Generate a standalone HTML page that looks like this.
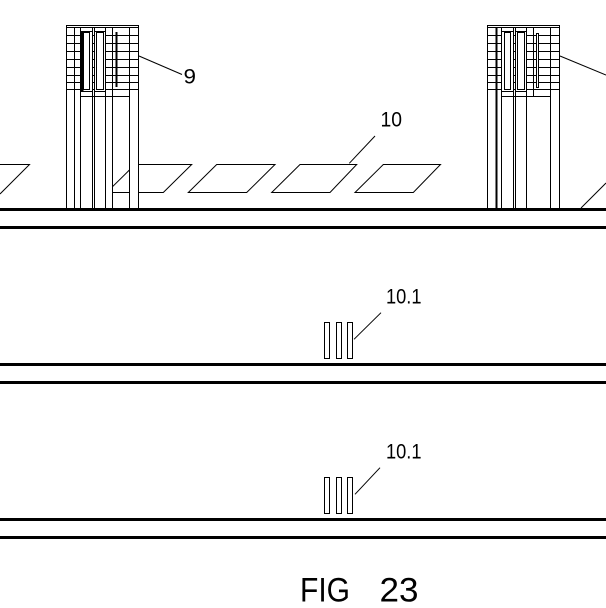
<!DOCTYPE html>
<html>
<head>
<meta charset="utf-8">
<style>
  html,body{margin:0;padding:0;background:#fff;}
  svg{display:block;}
  text{font-family:"Liberation Sans","DejaVu Sans",sans-serif;fill:#000;}
</style>
</head>
<body>
<svg width="606" height="608" viewBox="0 0 606 608" xmlns="http://www.w3.org/2000/svg">
  <defs>
    <clipPath id="p2clip">
      <rect x="113" y="100" width="16" height="108"/>
      <rect x="139" y="100" width="80" height="108"/>
    </clipPath>
  </defs>
  <rect x="0" y="0" width="606" height="608" fill="#fff"/>

  <!-- ground lines -->
  <rect x="0" y="208" width="606" height="3" fill="#000"/>
  <rect x="0" y="226" width="606" height="3" fill="#000"/>
  <rect x="0" y="363" width="606" height="3" fill="#000"/>
  <rect x="0" y="381" width="606" height="3" fill="#000"/>
  <rect x="0" y="518" width="606" height="3" fill="#000"/>
  <rect x="0" y="536" width="606" height="3" fill="#000"/>

  <g fill="none" stroke="#000" stroke-width="1">
    <polyline points="0,164.5 29.5,164.5 0,194"/>
    <polygon points="135,164.5 191.7,164.5 163.3,192.5 106.6,192.5" clip-path="url(#p2clip)"/>
    <polygon points="216.7,164.5 275,164.5 246.7,192.5 188.3,192.5"/>
    <polygon points="300,164.5 356.7,164.5 330,192.5 271.7,192.5"/>
    <polygon points="383.3,164.5 440.5,164.5 413.3,192.5 355,192.5"/>
    <line x1="606" y1="183" x2="581" y2="208"/>
    <line x1="375" y1="136" x2="349.3" y2="163.3"/>
  </g>

  <!-- LEFT TOWER -->
  <g fill="none" stroke="#000" stroke-width="1" shape-rendering="crispEdges">
    <line x1="66.5" y1="25" x2="66.5" y2="208"/>
    <line x1="138.5" y1="25" x2="138.5" y2="208"/>
    <line x1="66" y1="25.5" x2="139" y2="25.5"/>
    <line x1="66" y1="27.5" x2="139" y2="27.5"/>
    <line x1="74.5" y1="27" x2="74.5" y2="208"/>
    <line x1="80.5" y1="27" x2="80.5" y2="208"/>
    <line x1="92.5" y1="27" x2="92.5" y2="208"/>
    <line x1="94.5" y1="27" x2="94.5" y2="208"/>
    <line x1="105.5" y1="27" x2="105.5" y2="208"/>
    <line x1="112.5" y1="27" x2="112.5" y2="208"/>
    <line x1="129.5" y1="27" x2="129.5" y2="208"/>
    <line x1="66" y1="35.5" x2="139" y2="35.5"/>
    <line x1="66" y1="43.5" x2="139" y2="43.5"/>
    <line x1="66" y1="51.5" x2="139" y2="51.5"/>
    <line x1="66" y1="59.5" x2="139" y2="59.5"/>
    <line x1="66" y1="67.5" x2="139" y2="67.5"/>
    <line x1="66" y1="75.5" x2="139" y2="75.5"/>
    <line x1="66" y1="82.5" x2="139" y2="82.5"/>
    <line x1="66" y1="89.5" x2="139" y2="89.5"/>
    <rect x="80.5" y="31.5" width="12" height="60" fill="#fff"/>
    <rect x="94.5" y="31.5" width="11" height="60" fill="#fff"/>
    <rect x="83.5" y="32.5" width="6" height="57"/>
    <rect x="96.5" y="32.5" width="7" height="57"/>
    <line x1="80" y1="96.5" x2="130" y2="96.5"/>
  </g>
  <rect x="81" y="32" width="2.5" height="59" fill="#000"/>
  <rect x="115.5" y="32" width="2" height="55" fill="#000"/>

  <!-- RIGHT TOWER -->
  <g fill="none" stroke="#000" stroke-width="1" shape-rendering="crispEdges">
    <line x1="487.5" y1="25" x2="487.5" y2="208"/>
    <line x1="559.5" y1="25" x2="559.5" y2="208"/>
    <line x1="487" y1="25.5" x2="560" y2="25.5"/>
    <line x1="487" y1="27.5" x2="560" y2="27.5"/>
    <line x1="501.5" y1="27" x2="501.5" y2="208"/>
    <line x1="513.5" y1="27" x2="513.5" y2="208"/>
    <line x1="515.5" y1="27" x2="515.5" y2="208"/>
    <line x1="526.5" y1="27" x2="526.5" y2="208"/>
    <line x1="533.5" y1="27" x2="533.5" y2="96"/>
    <line x1="550.5" y1="27" x2="550.5" y2="208"/>
    <line x1="487" y1="35.5" x2="560" y2="35.5"/>
    <line x1="487" y1="43.5" x2="560" y2="43.5"/>
    <line x1="487" y1="51.5" x2="560" y2="51.5"/>
    <line x1="487" y1="59.5" x2="560" y2="59.5"/>
    <line x1="487" y1="67.5" x2="560" y2="67.5"/>
    <line x1="487" y1="75.5" x2="560" y2="75.5"/>
    <line x1="487" y1="82.5" x2="560" y2="82.5"/>
    <line x1="487" y1="89.5" x2="560" y2="89.5"/>
    <rect x="501.5" y="31.5" width="12" height="60" fill="#fff"/>
    <rect x="515.5" y="31.5" width="11" height="60" fill="#fff"/>
    <rect x="504.5" y="32.5" width="6" height="57"/>
    <rect x="517.5" y="32.5" width="7" height="57"/>
    <rect x="536.5" y="33.5" width="2" height="54" fill="#fff"/>
    <line x1="501" y1="96.5" x2="551" y2="96.5"/>
  </g>
  <rect x="495.5" y="27" width="2" height="181" fill="#000"/>

  <!-- leaders -->
  <g fill="none" stroke="#000" stroke-width="1">
    <line x1="139" y1="56" x2="182" y2="74.5"/>
    <line x1="560" y1="56" x2="606" y2="75"/>
    <line x1="354" y1="339.3" x2="381" y2="312.7"/>
    <line x1="355" y1="494.3" x2="380" y2="467.7"/>
  </g>

  <!-- 10.1 bars -->
  <g fill="#fff" stroke="#000" stroke-width="1" shape-rendering="crispEdges">
    <rect x="324.5" y="322.5" width="5" height="36"/>
    <rect x="336.5" y="322.5" width="5" height="36"/>
    <rect x="347.5" y="322.5" width="5" height="36"/>
    <rect x="324.5" y="477.5" width="5" height="36"/>
    <rect x="336.5" y="477.5" width="5" height="36"/>
    <rect x="347.5" y="477.5" width="5" height="36"/>
  </g>

  <!-- labels -->
  <text x="183.5" y="83.3" font-size="21" textLength="12.5" lengthAdjust="spacingAndGlyphs">9</text>
  <text x="380.5" y="126.7" font-size="21" textLength="21.5" lengthAdjust="spacingAndGlyphs">10</text>
  <text x="386" y="303.3" font-size="21" textLength="35.5" lengthAdjust="spacingAndGlyphs">10.1</text>
  <text x="386" y="458.3" font-size="21" textLength="35.5" lengthAdjust="spacingAndGlyphs">10.1</text>
  <text x="300" y="601.7" font-size="34.5" textLength="50" lengthAdjust="spacingAndGlyphs">FIG</text>
  <text x="379.5" y="601.7" font-size="34.5" textLength="39" lengthAdjust="spacingAndGlyphs">23</text>
</svg>
</body>
</html>
